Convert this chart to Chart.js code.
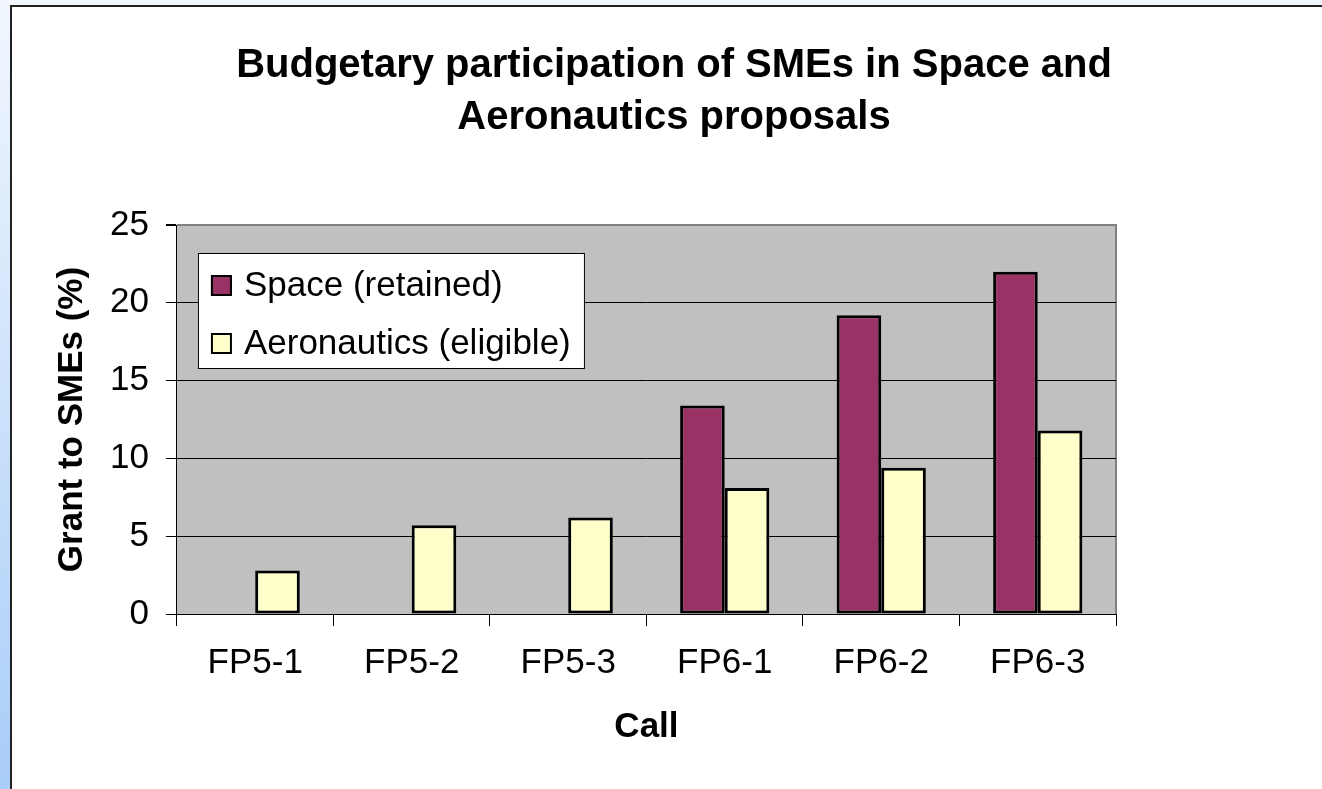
<!DOCTYPE html>
<html>
<head>
<meta charset="utf-8">
<title>Budgetary participation of SMEs</title>
<script src="https://cdn.jsdelivr.net/npm/chart.js@4.4.1/dist/chart.umd.min.js"></script>
<style>
    html, body {
        margin: 0;
        padding: 0;
        width: 1322px;
        height: 789px;
        overflow: hidden;
        background: linear-gradient(to bottom, #f2f7fe, #a8cdf8);
    }
    #frame {
        position: absolute;
        left: 10px;
        top: 5px;
        width: 1330px;
        height: 800px;
        background: #ffffff;
        border-left: 2px solid #222;
        border-top: 2px solid #222;
    }
    #chart {
        position: absolute;
        left: 0;
        top: 0;
    }
</style>
</head>
<body>
<div id="frame"></div>
<canvas id="chart" width="1322" height="789"></canvas>
<script>
const calls = ['FP5-1', 'FP5-2', 'FP5-3', 'FP6-1', 'FP6-2', 'FP6-3'];
const spaceRetained = [null, null, null, 13.4, 19.2, 22.0];
const aeroEligible = [2.8, 5.7, 6.2, 8.1, 9.4, 11.8];
const seriesNames = ['Space (retained)', 'Aeronautics (eligible)'];
const titleLines = ['Budgetary participation of SMEs in Space and', 'Aeronautics proposals'];
const yTitle = 'Grant to SMEs (%)';
const xTitle = 'Call';

Chart.defaults.font.family = '"Liberation Sans", Arial, sans-serif';
Chart.defaults.color = '#000';

// grey plot area with its darker frame, like the old Excel charts
const plotBackground = {
    id: 'plotBackground',
    beforeDraw(chart) {
        const { ctx, chartArea: a } = chart;
        ctx.save();
        ctx.fillStyle = '#c0c0c0';
        ctx.fillRect(a.left, a.top, a.right - a.left, a.bottom - a.top);
        ctx.strokeStyle = '#808080';
        ctx.lineWidth = 2;
        ctx.beginPath();
        ctx.moveTo(a.left, a.top);
        ctx.lineTo(a.right, a.top);
        ctx.lineTo(a.right, a.bottom);
        ctx.stroke();
        ctx.restore();
    }
};

// title centred on the whole frame, not only on the plot
const frameTitle = {
    id: 'frameTitle',
    afterDraw(chart) {
        const ctx = chart.ctx;
        ctx.save();
        ctx.fillStyle = '#000';
        ctx.font = 'bold 40px "Liberation Sans", Arial, sans-serif';
        ctx.textAlign = 'center';
        ctx.textBaseline = 'middle';
        titleLines.forEach((line, i) => ctx.fillText(line, 674, 66 + i * 52));
        ctx.restore();
    }
};

// boxed legend sitting inside the plot area
const boxLegend = {
    id: 'boxLegend',
    afterDraw(chart) {
        const { ctx, chartArea: a } = chart;
        const x = a.left + 21;
        const y = a.top + 28;
        ctx.save();
        ctx.fillStyle = '#fff';
        ctx.fillRect(x, y, 387, 116);
        ctx.strokeStyle = '#000';
        ctx.lineWidth = 1;
        ctx.strokeRect(x + 0.5, y + 0.5, 386, 115);
        ctx.font = '35px "Liberation Sans", Arial, sans-serif';
        ctx.textBaseline = 'middle';
        chart.data.datasets.forEach((ds, i) => {
            const cy = y + 32 + i * 58;
            ctx.fillStyle = ds.backgroundColor;
            ctx.fillRect(x + 13, cy - 10, 21, 21);
            ctx.lineWidth = 2;
            ctx.strokeStyle = '#000';
            ctx.strokeRect(x + 14, cy - 9, 19, 19);
            ctx.fillStyle = '#000';
            ctx.fillText(ds.label, x + 46, cy + 1);
        });
        ctx.restore();
    }
};

new Chart(document.getElementById('chart'), {
    type: 'bar',
    data: {
        labels: calls,
        datasets: [
            {
                label: seriesNames[0],
                data: spaceRetained,
                backgroundColor: '#993366',
                borderColor: '#000',
                borderWidth: 3,
                borderSkipped: false
            },
            {
                label: seriesNames[1],
                data: aeroEligible,
                backgroundColor: '#ffffcc',
                borderColor: '#000',
                borderWidth: 3,
                borderSkipped: false
            }
        ]
    },
    options: {
        responsive: false,
        animation: false,
        devicePixelRatio: 1,
        categoryPercentage: 0.57,
        barPercentage: 1,
        layout: {
            padding: { left: 41, right: 206, top: 225, bottom: 37 }
        },
        plugins: {
            legend: { display: false },
            title: { display: false },
            tooltip: { enabled: false }
        },
        scales: {
            x: {
                grid: {
                    offset: true,
                    drawOnChartArea: false,
                    tickLength: 12,
                    color: '#000',
                    tickColor: '#000'
                },
                border: { color: '#000', width: 1 },
                ticks: { padding: 16, font: { size: 35 } },
                title: {
                    display: true,
                    text: xTitle,
                    font: { size: 35, weight: 'bold' },
                    padding: { top: 6, bottom: 4 }
                }
            },
            y: {
                min: 0,
                max: 25,
                ticks: { stepSize: 5, padding: 17, font: { size: 35 } },
                grid: {
                    tickLength: 11,
                    tickColor: '#000',
                    color: (c) => (c.tick && c.tick.value === 25 ? '#808080' : '#000'),
                    lineWidth: (c) => (c.tick && c.tick.value === 25 ? 2 : 1)
                },
                border: { color: '#000', width: 1 },
                title: {
                    display: true,
                    text: yTitle,
                    font: { size: 35, weight: 'bold' },
                    padding: { top: 10, bottom: 0 }
                }
            }
        }
    },
    plugins: [plotBackground, frameTitle, boxLegend]
});
</script>
</body>
</html>
